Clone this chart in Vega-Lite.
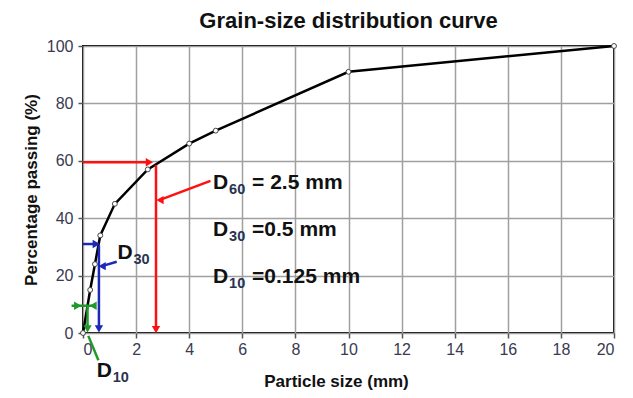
{
  "$schema": "https://vega.github.io/schema/vega-lite/v6.json",
  "autosize": {"type": "none"},
  "width": 531,
  "height": 287,
  "padding": {"left": 83, "top": 46, "right": 19, "bottom": 65},
  "background": "white",
  "title": {
    "text": "Grain-size distribution curve",
    "font": "Liberation Sans",
    "fontSize": 22,
    "fontWeight": "bold",
    "color": "#111111",
    "anchor": "middle",
    "offset": 5
  },
  "config": {
    "view": {"stroke": "#000000", "strokeWidth": 2},
    "font": "Liberation Sans",
    "axis": {
      "grid": true,
      "gridColor": "#a0a0a0",
      "gridWidth": 1.5,
      "domain": false,
      "tickColor": "#555555",
      "tickSize": 5,
      "tickWidth": 1.5,
      "labelFont": "Liberation Sans",
      "labelFontSize": 16,
      "labelColor": "#3a3a50",
      "titleFont": "Liberation Sans",
      "titleFontSize": 17,
      "titleFontWeight": "bold",
      "titleColor": "#111111"
    }
  },
  "datasets": {
    "curve": [
      {"x": 0, "y": 0},
      {"x": 0.27, "y": 15},
      {"x": 0.45, "y": 24},
      {"x": 0.65, "y": 34},
      {"x": 1.2, "y": 45},
      {"x": 2.44, "y": 57},
      {"x": 4, "y": 66},
      {"x": 5, "y": 70.5},
      {"x": 10, "y": 91},
      {"x": 20, "y": 100}
    ],
    "segs": [
      {"group": "D60", "x": 0, "y": 59.5, "x2": 2.4, "y2": 59.5},
      {"group": "D60", "x": 2.75, "y": 58.5, "x2": 2.75, "y2": 1.5},
      {"group": "D60", "x": 4.8, "y": 53, "x2": 2.85, "y2": 46.2},
      {"group": "D30", "x": 0, "y": 31, "x2": 0.42, "y2": 31},
      {"group": "D30", "x": 0.6, "y": 30.5, "x2": 0.6, "y2": 2},
      {"group": "D30", "x": 1.27, "y": 24.8, "x2": 0.68, "y2": 23.2},
      {"group": "D10", "x": -0.43, "y": 9.5, "x2": 0.45, "y2": 9.5},
      {"group": "D10", "x": 0.17, "y": 9.5, "x2": 0.17, "y2": 1.5},
      {"group": "D10", "x": 0.58, "y": -9.5, "x2": 0.2, "y2": -1}
    ],
    "heads": [
      {"group": "D60", "dir": "right", "x": 2.5, "y": 59.5},
      {"group": "D60", "dir": "down", "x": 2.75, "y": 1.2},
      {"group": "D60", "dir": "left", "x": 2.9, "y": 46.3},
      {"group": "D30", "dir": "right", "x": 0.5, "y": 31},
      {"group": "D30", "dir": "down", "x": 0.6, "y": 1.4},
      {"group": "D30", "dir": "left", "x": 0.72, "y": 23.3},
      {"group": "D10", "dir": "right", "x": -0.2, "y": 9.5},
      {"group": "D10", "dir": "left", "x": 0.38, "y": 9.5},
      {"group": "D10", "dir": "down", "x": 0.17, "y": 1.4}
    ],
    "labels": [
      {"main": "D", "sub": "60", "rest": "= 2.5 mm", "x": 4.9, "y": 50.2},
      {"main": "D", "sub": "30", "rest": "=0.5 mm", "x": 4.9, "y": 33.8},
      {"main": "D", "sub": "10", "rest": "=0.125 mm", "x": 4.9, "y": 17.5},
      {"main": "D", "sub": "30", "rest": "", "x": 1.3, "y": 25.7},
      {"main": "D", "sub": "10", "rest": "", "x": 0.52, "y": -15.4}
    ]
  },
  "layer": [
    {
      "data": {"name": "curve"},
      "mark": {"type": "line", "interpolate": "linear", "color": "#000000", "strokeWidth": 2.5},
      "encoding": {
        "x": {
          "field": "x", "type": "quantitative",
          "scale": {"domain": [0, 20], "nice": false, "zero": false},
          "axis": {"values": [0, 2, 4, 6, 8, 10, 12, 14, 16, 18, 20], "labelPadding": 3, "title": "Particle size (mm)", "titleX": 253, "titleY": 40, "titleBaseline": "top"}
        },
        "y": {
          "field": "y", "type": "quantitative",
          "scale": {"domain": [0, 100], "nice": false},
          "axis": {"values": [0, 20, 40, 60, 80, 100], "labelPadding": 5, "title": "Percentage passing (%)", "titlePadding": 6}
        }
      }
    },
    {
      "data": {"name": "curve"},
      "mark": {"type": "point", "shape": "circle", "size": 24, "filled": false, "fill": "white", "stroke": "#444444", "strokeWidth": 1, "opacity": 1},
      "encoding": {
        "x": {"field": "x", "type": "quantitative"},
        "y": {"field": "y", "type": "quantitative"}
      }
    },
    {
      "data": {"name": "segs"},
      "mark": {"type": "rule", "strokeWidth": 2.5},
      "encoding": {
        "x": {"field": "x", "type": "quantitative"},
        "y": {"field": "y", "type": "quantitative"},
        "x2": {"field": "x2"},
        "y2": {"field": "y2"},
        "color": {"field": "group", "type": "nominal", "scale": {"domain": ["D60", "D30", "D10"], "range": ["#ff1010", "#1c28b8", "#1f9a2a"]}, "legend": null}
      }
    },
    {
      "data": {"name": "heads"},
      "mark": {"type": "point", "filled": true, "size": 70, "opacity": 1},
      "encoding": {
        "x": {"field": "x", "type": "quantitative"},
        "y": {"field": "y", "type": "quantitative"},
        "shape": {"field": "dir", "type": "nominal", "scale": {"domain": ["right", "down", "left"], "range": ["triangle-right", "triangle-down", "triangle-left"]}, "legend": null},
        "color": {"field": "group", "type": "nominal", "legend": null}
      }
    },
    {
      "data": {"name": "labels"},
      "mark": {"type": "text", "align": "left", "baseline": "alphabetic", "fontSize": 21, "fontWeight": "bold", "color": "#111111"},
      "encoding": {
        "x": {"field": "x", "type": "quantitative"},
        "y": {"field": "y", "type": "quantitative"},
        "text": {"field": "main"}
      }
    },
    {
      "data": {"name": "labels"},
      "mark": {"type": "text", "align": "left", "baseline": "alphabetic", "fontSize": 14.5, "fontWeight": "bold", "color": "#2a3350", "dx": 16, "dy": 5},
      "encoding": {
        "x": {"field": "x", "type": "quantitative"},
        "y": {"field": "y", "type": "quantitative"},
        "text": {"field": "sub"}
      }
    },
    {
      "data": {"name": "labels"},
      "mark": {"type": "text", "align": "left", "baseline": "alphabetic", "fontSize": 21, "fontWeight": "bold", "color": "#111111", "dx": 39},
      "encoding": {
        "x": {"field": "x", "type": "quantitative"},
        "y": {"field": "y", "type": "quantitative"},
        "text": {"field": "rest"}
      }
    }
  ]
}
